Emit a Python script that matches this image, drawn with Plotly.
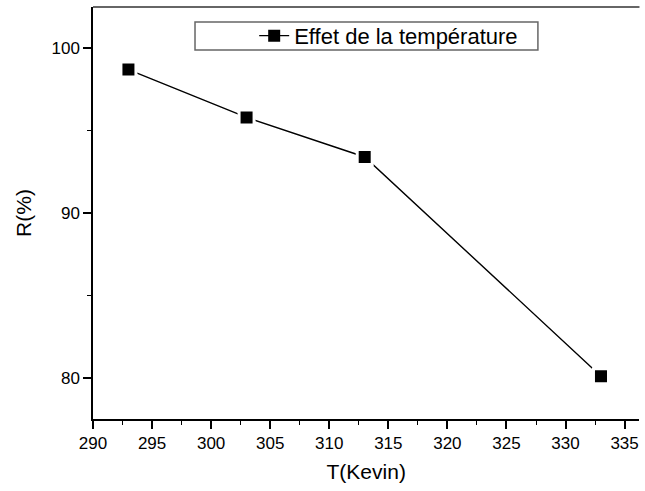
import plotly.graph_objects as go

temperature_K = [293, 303, 313, 333]
rendement_pct = [98.7, 95.8, 93.4, 80.1]
series_name = "Effet de la température"
x_title = "T(Kevin)"
y_title = "R(%)"
x_ticks = [290, 295, 300, 305, 310, 315, 320, 325, 330, 335]
y_ticks = [80, 90, 100]

FONT = "Liberation Sans, Arial, sans-serif"
X_DOMAIN_END = 0.99

fig = go.Figure()
fig.add_trace(go.Scatter(
    x=temperature_K, y=rendement_pct, name=series_name,
    mode="lines+markers",
    line=dict(color="black", width=1.4),
    marker=dict(symbol="square", size=15, color="black",
                line=dict(color="white", width=3)),
    showlegend=False, legendgroup="s",
))
fig.add_trace(go.Scatter(
    x=[None], y=[None], name=series_name, mode="lines+markers",
    line=dict(color="black", width=1.4),
    marker=dict(symbol="square", size=12, color="black"),
    showlegend=True, legendgroup="s",
))

axis_common = dict(
    showgrid=False, zeroline=False, automargin=False,
    showline=True, linecolor="black", linewidth=1.5, mirror=False,
    ticks="outside", ticklen=8, tickwidth=1.5, tickcolor="black",
    tickfont=dict(family=FONT, size=17, color="black"),
)

fig.update_xaxes(
    range=[290, 336.26], tickvals=x_ticks, domain=[0, X_DOMAIN_END],
    minor=dict(dtick=2.5, ticks="outside", ticklen=4, tickwidth=1.2, tickcolor="black"),
    title=dict(text=x_title, font=dict(family=FONT, size=21, color="black"), standoff=12),
    **axis_common,
)
fig.update_yaxes(
    range=[77.5, 102.5], tickvals=y_ticks,
    minor=dict(dtick=5, ticks="outside", ticklen=4, tickwidth=1.2, tickcolor="black"),
    title=dict(text=y_title, font=dict(family=FONT, size=21, color="black"), standoff=14),
    **axis_common,
)

# top frame line (the right side of the frame lies outside the picture)
fig.add_shape(type="line", xref="paper", yref="paper", x0=0, x1=X_DOMAIN_END, y0=1, y1=1,
              line=dict(color="#333333", width=1.5))
# legend frame
fig.add_shape(type="rect", xref="paper", yref="paper",
              x0=0.1848, x1=0.806, y0=0.8956, y1=0.9636,
              line=dict(color="#666666", width=1.5), fillcolor="rgba(0,0,0,0)")

fig.update_layout(
    width=645, height=491,
    margin=dict(l=93, r=0, t=7, b=72, autoexpand=False),
    paper_bgcolor="white", plot_bgcolor="white",
    font=dict(family=FONT, color="black"),
    legend=dict(x=0.292, y=0.93, xanchor="left", yanchor="middle",
                bgcolor="rgba(0,0,0,0)", borderwidth=0,
                font=dict(family=FONT, size=22, color="black")),
)

fig.write_html("out.html")
